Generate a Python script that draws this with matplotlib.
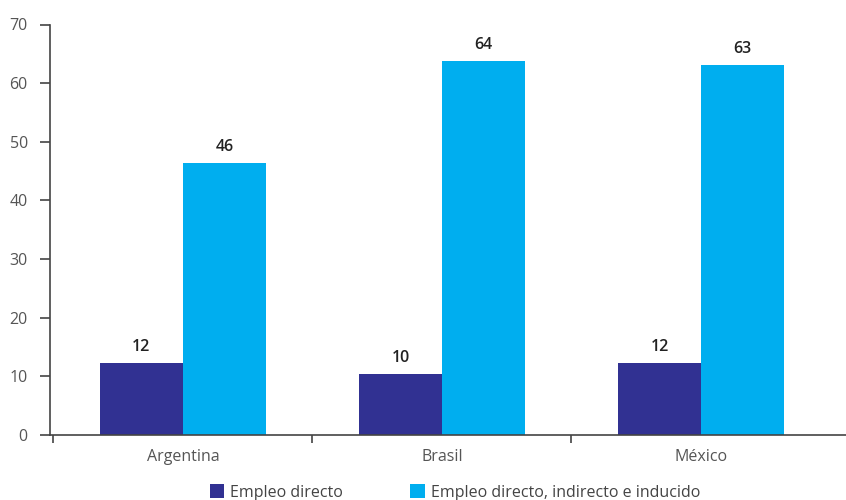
import matplotlib
matplotlib.use("Agg")
import matplotlib.pyplot as plt
import numpy as np

categories = ["Argentina", "Brasil", "México"]
directo = [12.3, 10.4, 12.3]
total = [46.3, 63.7, 63.1]
series_names = ["Empleo directo", "Empleo directo, indirecto e inducido"]
colors = ["#313192", "#00AEEF"]

plt.rcParams['font.family'] = ['Open Sans', 'DejaVu Sans']

fig = plt.figure(figsize=(8.46, 5.0), dpi=100)
ax = fig.add_axes([50/846, 65/500, 796/846, (435-24.5)/500])

x = np.arange(len(categories))
w = 0.32
b1 = ax.bar(x - w/2, directo, w, color=colors[0], label=series_names[0])
b2 = ax.bar(x + w/2, total, w, color=colors[1], label=series_names[1])

for bars, vals in ((b1, directo), (b2, total)):
    for r, v in zip(bars, vals):
        ax.text(r.get_x() + r.get_width()/2, v + 1.4, f"{round(v):d}",
                ha="center", va="bottom", fontsize=11.5, color="#222222",
                fontweight="semibold")

ax.set_ylim(0, 70)
ax.set_yticks(range(0, 71, 10))
ax.set_xlim(-0.513, 2.56)
ax.set_xticks([-0.5, 0.5, 1.5])
ax.set_xticklabels([])
ax.set_xticks(x, minor=True)
ax.set_xticklabels(categories, minor=True)
ax.tick_params(axis="x", which="minor", length=0, pad=10, labelsize=11.5, labelcolor="#555555")
ax.tick_params(axis="x", which="major", length=6, width=1.2, color="#444444", direction="out")
ax.tick_params(axis="y", length=7, width=1.2, color="#444444", pad=9, labelsize=11.5, labelcolor="#555555")

for s in ("top", "right"):
    ax.spines[s].set_visible(False)
for s in ("left", "bottom"):
    ax.spines[s].set_color("#444444")
    ax.spines[s].set_linewidth(1.2)

fig.legend(handles=[b1, b2], labels=series_names, loc="lower center",
           bbox_to_anchor=(455/846, -0.03), ncol=2, frameon=False,
           fontsize=11.5, handlelength=0.9, handleheight=0.9,
           columnspacing=4.2, handletextpad=0.4, labelcolor="#444444")

fig.savefig("out.png", dpi=100)
